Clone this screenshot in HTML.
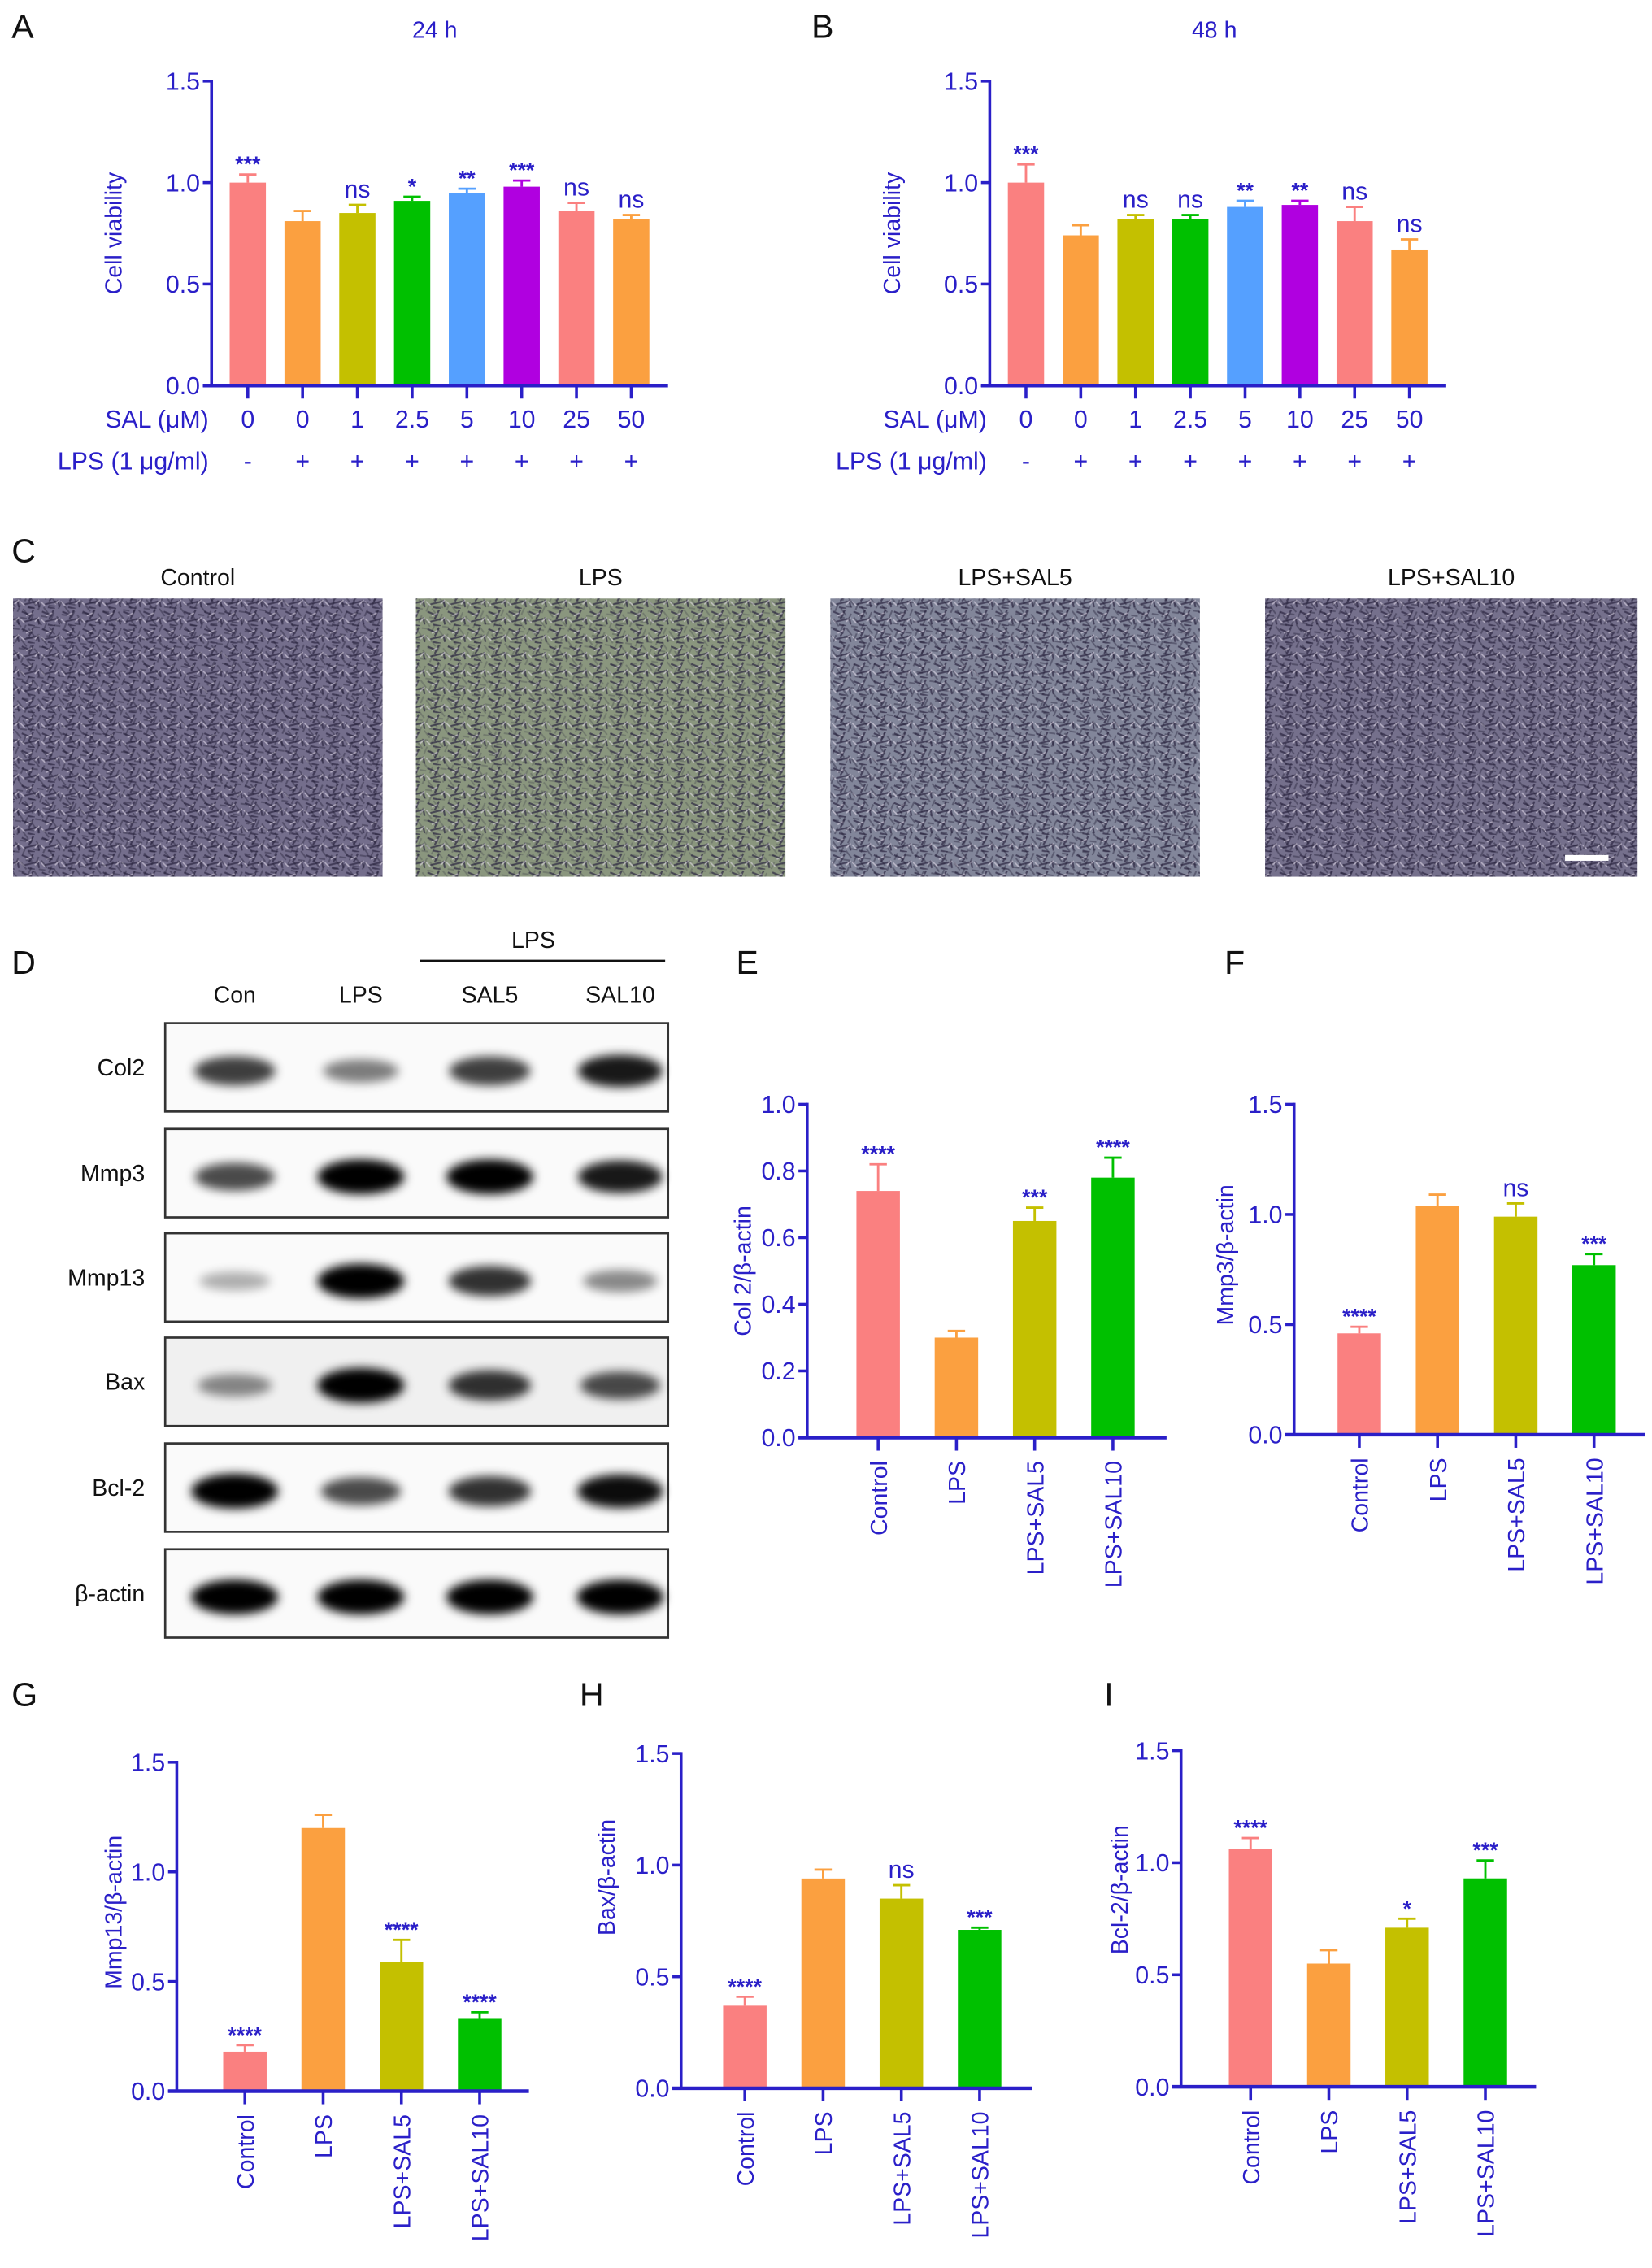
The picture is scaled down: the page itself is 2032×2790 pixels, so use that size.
<!DOCTYPE html>
<html><head><meta charset="utf-8">
<style>
html,body{margin:0;padding:0;background:#fff;}
svg{display:block;font-family:"Liberation Sans",Arial,sans-serif;}
</style></head>
<body>
<svg id="fig" width="2032" height="2790" viewBox="0 0 1140 1565" preserveAspectRatio="none" xmlns="http://www.w3.org/2000/svg">
<defs>
<filter id="blur" x="-30%" y="-80%" width="160%" height="260%"><feGaussianBlur stdDeviation="3.5"/></filter>
<pattern id="cells" width="14" height="12" patternUnits="userSpaceOnUse">
<path d="M1 2 l7 3 M9 1 l-3 6 M3 9 l8 -2 M12 6 l1 5 M5 11 l5 1" stroke="#2a2440" stroke-width="1.2" opacity="0.7"/>
<path d="M4 5 l4 -2 M10 9 l3 -3 M0 7 l3 3" stroke="#e8e0ee" stroke-width="0.9" opacity="0.55"/>
</pattern>
<pattern id="cells2" width="11" height="9" patternUnits="userSpaceOnUse" patternTransform="rotate(35)">
<path d="M1 2 l6 2 M7 6 l-4 2 M9 1 l1 5" stroke="#1c1830" stroke-width="1.1" opacity="0.55"/>
</pattern>
</defs>
<g id="root"></g>
</svg>
<script>
// ---------- data ----------
const aCategories = ["0","0","1","2.5","5","10","25","50"];
const aLps = ["-","+","+","+","+","+","+","+"];
const aValues = [1.0,0.81,0.85,0.91,0.95,0.98,0.86,0.82];
const aErrors = [0.04,0.05,0.04,0.02,0.02,0.03,0.04,0.02];
const aSig = ["***","","ns","*","**","***","ns","ns"];
const bValues = [1.0,0.74,0.82,0.82,0.88,0.89,0.81,0.67];
const bErrors = [0.09,0.05,0.02,0.02,0.03,0.02,0.07,0.05];
const bSig = ["***","","ns","ns","**","**","ns","ns"];
const ticks15 = [0,0.5,1.0,1.5];
const ticks10 = [0,0.2,0.4,0.6,0.8,1.0];
const groupCats = ["Control","LPS","LPS+SAL5","LPS+SAL10"];
const eValues = [0.74,0.30,0.65,0.78];
const eErrors = [0.08,0.02,0.04,0.06];
const eSig = ["****","","***","****"];
const fValues = [0.46,1.04,0.99,0.77];
const fErrors = [0.03,0.05,0.06,0.05];
const fSig = ["****","","ns","***"];
const gValues = [0.18,1.20,0.59,0.33];
const gErrors = [0.03,0.06,0.10,0.03];
const gSig = ["****","","****","****"];
const hValues = [0.37,0.94,0.85,0.71];
const hErrors = [0.04,0.04,0.06,0.01];
const hSig = ["****","","ns","***"];
const iValues = [1.06,0.55,0.71,0.93];
const iErrors = [0.05,0.06,0.04,0.08];
const iSig = ["****","","*","***"];
const blotRows = ["Col2","Mmp3","Mmp13","Bax","Bcl-2","β-actin"];
const blotLanes = ["Con","LPS","SAL5","SAL10"];
const blotIntensity = [
 [0.75,0.5,0.75,0.9],
 [0.7,1.0,1.0,0.9],
 [0.3,1.0,0.8,0.45],
 [0.45,1.0,0.8,0.7],
 [1.0,0.7,0.8,0.95],
 [1.0,1.0,1.0,1.0]
];
const microTitles = ["Control","LPS","LPS+SAL5","LPS+SAL10"];

const barColors8 = ["#fa8080","#fba040","#c4c000","#00c000","#55a0ff","#b000e0","#fa8080","#fba040"];
const barColors4 = ["#fa8080","#fba040","#c4c000","#00c000"];
const BLUE = "#2a1fc8";
const NS = "http://www.w3.org/2000/svg";
const root = document.getElementById('root');
function el(tag, attrs, parent, text){
  const e = document.createElementNS(NS, tag);
  for (const k in attrs) e.setAttribute(k, attrs[k]);
  if (text !== undefined) e.textContent = text;
  (parent||root).appendChild(e);
  return e;
}

// panel letters
[["A",8,26],["B",560,26],["C",8,388],["D",8,672],["E",508,672],["F",845,672],["G",8,1177],["H",400,1177],["I",762,1177]].forEach(p=>{
  const t = el('text',{x:p[1],y:p[2],'font-size':23,fill:'#111'},root,p[0]);
  
  
});

function barChart(o){
  const g = el('g',{});
  
  
  const y = v => o.y0 - (v - 0)/(o.ymax) * (o.y0 - o.ytop);
  const x = i => o.x0 + i*o.step;
  o.values.forEach((v,i)=>{
    const b = el('rect',{x:x(i)-o.bw/2,y:y(v),width:o.bw,height:o.y0-y(v),fill:o.colors[i]},g);
    
    
    const ye = y(v+o.errors[i]);
    el('line',{x1:x(i),x2:x(i),y1:y(v),y2:ye,stroke:o.colors[i],'stroke-width':1.6},g);
    el('line',{x1:x(i)-6,x2:x(i)+6,y1:ye,y2:ye,stroke:o.colors[i],'stroke-width':1.6},g);
    if (o.sig[i]) {
      const star = o.sig[i] !== 'ns';
      const s = el('text',{x:x(i),y:ye-(star?2:5),'text-anchor':'middle','font-size':star?15:17,'font-weight':star?'bold':'normal',fill:BLUE},g,o.sig[i]);
      
      
    }
  });
  el('line',{x1:o.axX,x2:o.axX,y1:o.ytop-1,y2:o.y0,stroke:BLUE,'stroke-width':2},g);
  el('line',{x1:o.axX-6,x2:o.xend,y1:o.y0,y2:o.y0,stroke:BLUE,'stroke-width':2.5},g);
  o.ticks.forEach(t=>{
    el('line',{x1:o.axX-6,x2:o.axX,y1:y(t),y2:y(t),stroke:BLUE,'stroke-width':2},g);
    const tl = el('text',{x:o.axX-8,y:y(t)+6,'text-anchor':'end','font-size':17,fill:BLUE},g,t.toFixed(1));
    
    
  });
  o.values.forEach((v,i)=>{
    el('line',{x1:x(i),x2:x(i),y1:o.y0,y2:o.y0+9,stroke:BLUE,'stroke-width':2},g);
  });
  const yt = el('text',{transform:`translate(${o.ylx},${(o.ytop+o.y0)/2+o.yloff}) rotate(-90)`,'text-anchor':'middle','font-size':16,fill:BLUE},g,o.ylabel);
  
  
  if (o.rotated) {
    o.cats.forEach((c,i)=>{
      const t = el('text',{transform:`translate(${x(i)+6},${o.y0+16}) rotate(-90)`,'text-anchor':'end','font-size':16,fill:BLUE},g,c);
      
      
    });
  } else {
    o.cats.forEach((c,i)=>{
      const t = el('text',{x:x(i),y:o.y0+29,'text-anchor':'middle','font-size':17,fill:BLUE},g,c);
      
      
      const t2 = el('text',{x:x(i),y:o.y0+58,'text-anchor':'middle','font-size':17,fill:BLUE},g,aLps[i]);
      
      
    });
    const r1 = el('text',{x:o.axX-2,y:o.y0+29,'text-anchor':'end','font-size':17,fill:BLUE},g,'SAL (μM)');
    
    
    const r2 = el('text',{x:o.axX-2,y:o.y0+58,'text-anchor':'end','font-size':17,fill:BLUE},g,'LPS (1 μg/ml)');
    
    
    const tt = el('text',{x:o.titleX,y:26,'text-anchor':'middle','font-size':16,fill:BLUE},g,o.title);
    
    
  }
}

barChart({name:'chart-a-24h',values:aValues,errors:aErrors,sig:aSig,cats:aCategories,colors:barColors8,ticks:ticks15,ymax:1.5,
  axX:146,x0:171,step:37.8,bw:25,y0:266,ytop:56,xend:461,ylabel:'Cell viability',ylx:84,yloff:0,title:'24 h',titleX:300});
barChart({name:'chart-b-48h',values:bValues,errors:bErrors,sig:bSig,cats:aCategories,colors:barColors8,ticks:ticks15,ymax:1.5,
  axX:683,x0:708,step:37.8,bw:25,y0:266,ytop:56,xend:998,ylabel:'Cell viability',ylx:621,yloff:0,title:'48 h',titleX:838});
barChart({name:'chart-e-col2',values:eValues,errors:eErrors,sig:eSig,cats:groupCats,colors:barColors4,ticks:ticks10,ymax:1.0,
  axX:557,x0:606,step:54,bw:30,y0:992,ytop:762,xend:805,ylabel:'Col 2/β-actin',ylx:518,yloff:0,rotated:true});
barChart({name:'chart-f-mmp3',values:fValues,errors:fErrors,sig:fSig,cats:groupCats,colors:barColors4,ticks:ticks15,ymax:1.5,
  axX:893,x0:938,step:54,bw:30,y0:990,ytop:762,xend:1135,ylabel:'Mmp3/β-actin',ylx:851,yloff:-10,rotated:true});
barChart({name:'chart-g-mmp13',values:gValues,errors:gErrors,sig:gSig,cats:groupCats,colors:barColors4,ticks:ticks15,ymax:1.5,
  axX:122,x0:169,step:54,bw:30,y0:1443,ytop:1216,xend:365,ylabel:'Mmp13/β-actin',ylx:84,yloff:-10,rotated:true});
barChart({name:'chart-h-bax',values:hValues,errors:hErrors,sig:hSig,cats:groupCats,colors:barColors4,ticks:ticks15,ymax:1.5,
  axX:470,x0:514,step:54,bw:30,y0:1441,ytop:1210,xend:712,ylabel:'Bax/β-actin',ylx:424,yloff:-30,rotated:true});
barChart({name:'chart-i-bcl2',values:iValues,errors:iErrors,sig:iSig,cats:groupCats,colors:barColors4,ticks:ticks15,ymax:1.5,
  axX:815,x0:863,step:54,bw:30,y0:1440,ytop:1208,xend:1060,ylabel:'Bcl-2/β-actin',ylx:778,yloff:-20,rotated:true});

// ---------- micrographs (panel C) ----------
const microX = [9,287,573,873];
const microW = [255,255,255,257];
const microBase = ["#746e8c","#8a967e","#82869a","#75708c"];
microTitles.forEach((t,i)=>{
  const g = el('g',{});
  
  
  el('rect',{x:microX[i],y:413,width:microW[i],height:192,fill:microBase[i]},g);
  el('rect',{x:microX[i],y:413,width:microW[i],height:192,fill:'url(#cells)'},g);
  el('rect',{x:microX[i],y:413,width:microW[i],height:192,fill:'url(#cells2)',opacity:i==1?0.4:0.7},g);
  const tt = el('text',{x:microX[i]+microW[i]/2,y:404,'text-anchor':'middle','font-size':16,fill:'#111'},g,t);
  
  
});
const sb = el('rect',{x:1080,y:590,width:30,height:4,fill:'#fff'});



// ---------- western blot (panel D) ----------
const laneX = [162,249,338,428];
const boxTop = [706,779,851,923,996,1069];
const wb = el('g',{});


blotLanes.forEach((l,i)=>{
  const t = el('text',{x:laneX[i],y:692,'text-anchor':'middle','font-size':16,fill:'#111'},wb,l);
  
  
});
el('line',{x1:290,x2:459,y1:663,y2:663,stroke:'#111','stroke-width':1.5},wb);
el('text',{x:368,y:654,'text-anchor':'middle','font-size':16,fill:'#111'},wb,'LPS');
blotRows.forEach((r,ri)=>{
  const row = el('g',{},wb);
  
  
  el('rect',{x:114,y:boxTop[ri],width:347,height:61,fill:ri==3?'#f0f0f0':'#fafafa',stroke:'#333','stroke-width':1.5},row);
  el('text',{x:100,y:boxTop[ri]+36,'text-anchor':'end','font-size':16,fill:'#111'},row,r);
  blotIntensity[ri].forEach((v,li)=>{
    el('ellipse',{cx:laneX[li],cy:boxTop[ri]+33,rx:22+v*8,ry:4+v*8,fill:'#000',opacity:Math.min(1,v),filter:'url(#blur)'},row);
  });
});
</script>
</body></html>
